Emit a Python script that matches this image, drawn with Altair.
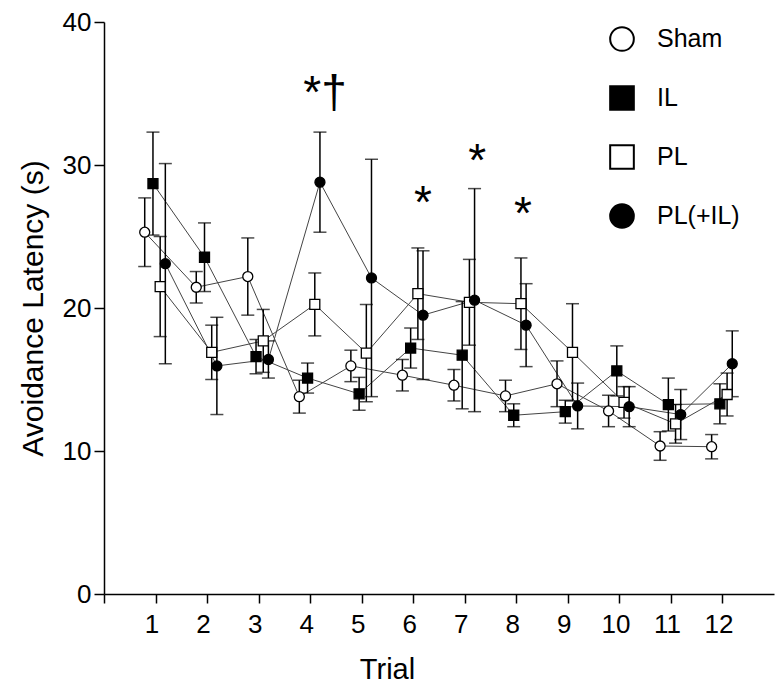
import altair as alt
import pandas as pd

FONT = "Liberation Sans"

trials = list(range(1, 13))
groups = ["Sham", "IL", "PL", "PL(+IL)"]

sham_mean = [25.3, 21.45, 22.2, 13.8, 15.95, 15.3, 14.6, 13.85, 14.7, 12.8, 10.35, 10.3]
sham_err = [2.4, 1.1, 2.7, 1.15, 1.1, 1.1, 1.1, 1.1, 1.6, 1.1, 1.0, 0.85]
il_mean = [28.7, 23.55, 16.6, 15.1, 14.0, 17.2, 16.7, 12.5, 12.75, 15.6, 13.25, 13.3]
il_err = [3.6, 2.4, 1.2, 1.05, 1.15, 1.4, 3.75, 0.8, 0.8, 1.75, 1.85, 1.4]
pl_mean = [21.5, 16.9, 17.7, 20.25, 16.85, 21.0, 20.4, 20.3, 16.9, 13.4, 11.9, 13.95]
pl_err = [3.5, 1.9, 2.2, 2.2, 3.4, 3.2, 3.0, 3.2, 3.4, 1.1, 1.35, 1.5]
plil_mean = [23.1, 15.95, 16.4, 28.8, 22.1, 19.5, 20.55, 18.8, 13.15, 13.1, 12.55, 16.1]
plil_err = [7.0, 3.4, 1.3, 3.5, 8.3, 4.5, 7.8, 2.9, 1.6, 1.4, 1.75, 2.3]

group_offsets = [-0.21, -0.05, 0.09, 0.19]
group_fills = ["white", "black", "white", "black"]
group_strokes = ["black", "black", "black", "black"]
group_shapes = ["circle", "square", "square", "circle"]

annot_x = [4.29, 6.19, 7.24, 8.13]
annot_y = [34.0, 26.3, 29.2, 25.5]
annot_text = ["*\u2020", "*", "*", "*"]

x_ticks = list(range(0, 13))
y_ticks = [0, 10, 20, 30, 40]

series = [sham_mean, il_mean, pl_mean, plil_mean]
errors = [sham_err, il_err, pl_err, plil_err]
rows = []
for gi, g in enumerate(groups):
    for t, m, e in zip(trials, series[gi], errors[gi]):
        rows.append(dict(group=g, order=gi, trial=t, x=t + group_offsets[gi],
                         mean=m, lo=m - e, hi=m + e))
df = pd.DataFrame(rows)
ann = pd.DataFrame(dict(x=annot_x, y=annot_y, text=annot_text))

xscale = alt.Scale(domain=[0, 13], nice=False, zero=False)
yscale = alt.Scale(domain=[0, 40], nice=False)

x_axis = alt.Axis(values=x_ticks, labelExpr="datum.value == 0 ? '' : datum.label",
                  title="Trial", titleFontSize=29, titleFontWeight="normal",
                  titleX=283, titleY=84, titleBaseline="alphabetic", titleAlign="center",
                  labelFontSize=26, tickSize=9, labelPadding=8, labelOffset=-4)
y_axis = alt.Axis(values=y_ticks, title="Avoidance Latency (s)", titleFontSize=30,
                  titleFontWeight="normal", titlePadding=14,
                  labelFontSize=26, tickSize=10, labelPadding=3)

base = alt.Chart(df)

lines = base.mark_line(color="#444444", strokeWidth=1).encode(
    x=alt.X("x:Q", scale=xscale, axis=x_axis),
    y=alt.Y("mean:Q", scale=yscale, axis=y_axis),
    detail="group:N",
    order="trial:Q",
)

rules = base.mark_rule(color="black", strokeWidth=1.5).encode(
    x=alt.X("x:Q", scale=xscale),
    y=alt.Y("lo:Q", scale=yscale),
    y2="hi:Q",
)
cap_lo = base.mark_tick(color="black", orient="horizontal", size=13, thickness=1.5).encode(
    x=alt.X("x:Q", scale=xscale),
    y=alt.Y("lo:Q", scale=yscale),
)
cap_hi = base.mark_tick(color="black", orient="horizontal", size=13, thickness=1.5).encode(
    x=alt.X("x:Q", scale=xscale),
    y=alt.Y("hi:Q", scale=yscale),
)

legend = alt.Legend(title=None, orient="none", legendX=505, legendY=4,
                    symbolSize=560, symbolStrokeWidth=2,
                    labelFontSize=25, labelFont=FONT, labelOffset=22,
                    rowPadding=27, padding=0)

points = base.mark_point(filled=True, size=100, strokeWidth=1.3, opacity=1).encode(
    x=alt.X("x:Q", scale=xscale),
    y=alt.Y("mean:Q", scale=yscale),
    shape=alt.Shape("group:N", scale=alt.Scale(domain=groups, range=group_shapes),
                    sort=groups, legend=legend),
    fill=alt.Fill("group:N", scale=alt.Scale(domain=groups, range=group_fills),
                  sort=groups, legend=legend),
    stroke=alt.Stroke("group:N", scale=alt.Scale(domain=groups, range=group_strokes),
                      sort=groups, legend=legend),
    order=alt.Order("order:Q"),
)

texts = alt.Chart(ann).mark_text(font=FONT, fontSize=46, baseline="alphabetic",
                                 align="center", color="black").encode(
    x=alt.X("x:Q", scale=xscale),
    y=alt.Y("y:Q", scale=yscale),
    text="text:N",
)

chart = alt.layer(lines, rules, cap_lo, cap_hi, points, texts).properties(
    width=670, height=572,
    autosize=alt.AutoSizeParams(type="none"),
    padding={"left": 96, "top": 14, "right": 2, "bottom": 90},
    background="white",
).configure_view(stroke=None).configure_axis(
    grid=False, domainColor="black", domainWidth=1.5, tickColor="black", tickWidth=1.5,
    labelColor="black", titleColor="black", labelFont=FONT, titleFont=FONT,
)

chart.save("out.html", embed_options={"renderer": "svg", "actions": False})
